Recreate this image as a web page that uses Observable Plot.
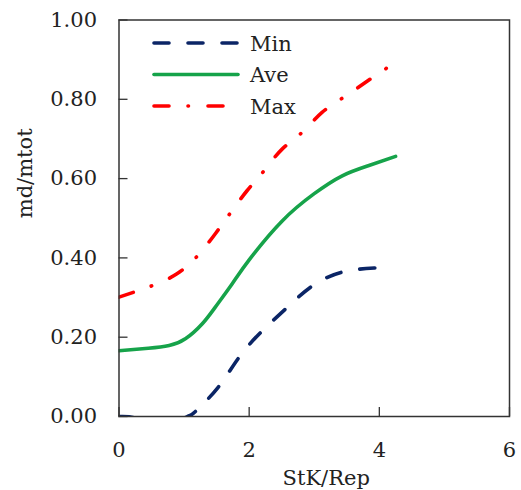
<!DOCTYPE html>
<html>
<head>
<meta charset="utf-8">
<script src="https://cdn.jsdelivr.net/npm/d3@7"></script>
<script src="https://cdn.jsdelivr.net/npm/@observablehq/plot@0.6"></script>
<style>
  html, body { margin: 0; padding: 0; background: white; }
  #chart { position: relative; width: 521px; height: 490px; }
</style>
</head>
<body>
<div id="chart"></div>
<script>
// ---- data ----
const xTicks = [0, 2, 4, 6];
const yTicks = [0, 0.2, 0.4, 0.6, 0.8, 1.0];

const seriesNames = ["Min", "Ave", "Max"];

const minX = [0, 0.25, 0.5, 0.75, 1.05, 1.17, 1.52, 1.83, 2.17, 2.55, 2.96, 3.45, 3.96, 4.09];
const minY = [0, -0.004, -0.025, -0.025, 0, 0.012, 0.073, 0.146, 0.211, 0.27, 0.328, 0.365, 0.375, 0.378];

const aveX = [0, 0.45, 0.77, 1.02, 1.28, 1.48, 1.74, 2.0, 2.5, 3.0, 3.43, 3.84, 4.25];
const aveY = [0.166, 0.172, 0.179, 0.196, 0.234, 0.276, 0.335, 0.395, 0.492, 0.562, 0.607, 0.633, 0.656];

const maxX = [0, 0.51, 0.89, 1.2, 1.48, 1.71, 1.97, 2.24, 2.51, 2.83, 3.12, 3.48, 3.79, 4.17];
const maxY = [0.301, 0.33, 0.36, 0.404, 0.461, 0.513, 0.57, 0.622, 0.675, 0.719, 0.767, 0.808, 0.843, 0.885];

const xLabel = "StK/Rep";
const yLabel = "md/mtot";

// ---- build tables ----
const toRows = (xs, ys) => xs.map((x, i) => ({x, y: ys[i]}));
const minData = toRows(minX, minY);
const aveData = toRows(aveX, aveY);
const maxData = toRows(maxX, maxY);

const styles = {
  Min: {stroke: "#0b2566", dash: "15,19"},
  Ave: {stroke: "#16a34a", dash: null},
  Max: {stroke: "#ff0000", dash: "15,19,0.5,19.5"}
};
const lw = 3.6;
const font = "DejaVu Serif";
const fs = 21;

const plot = Plot.plot({
  width: 521,
  height: 490,
  marginLeft: 118.5,
  marginRight: 12,
  marginTop: 19.5,
  marginBottom: 74,
  style: {fontFamily: font, fontSize: fs + "px"},
  x: {domain: [0, 6], label: null},
  y: {domain: [0, 1], label: null},
  marks: [
    Plot.line(minData, {x: "x", y: "y", stroke: styles.Min.stroke, strokeWidth: lw, strokeDasharray: styles.Min.dash, strokeLinecap: "round", curve: "natural", clip: true}),
    Plot.line(aveData, {x: "x", y: "y", stroke: styles.Ave.stroke, strokeWidth: lw, strokeLinecap: "round", curve: "natural", clip: true}),
    Plot.line(maxData, {x: "x", y: "y", stroke: styles.Max.stroke, strokeWidth: lw, strokeDasharray: styles.Max.dash, strokeLinecap: "round", curve: "natural", clip: true}),
    Plot.frame({stroke: "#333", strokeWidth: 1.5}),
    Plot.axisX({ticks: xTicks, tickSize: -9, tickFormat: () => "", stroke: "#333", strokeWidth: 1.3}),
    Plot.axisX({ticks: xTicks, tickSize: 0, tickPadding: 26, tickFormat: d => String(d), fill: "#222"}),
    Plot.axisY({ticks: yTicks, tickSize: -9, tickFormat: () => "", stroke: "#333", strokeWidth: 1.3}),
    Plot.axisY({ticks: yTicks, tickSize: 0, tickPadding: 22, tickFormat: d => d.toFixed(2), fill: "#222"}),
    Plot.text([xLabel], {text: d => d, frameAnchor: "bottom", lineAnchor: "middle", dx: 12, dy: 62, fill: "#222"}),
    Plot.text([yLabel], {text: d => d, frameAnchor: "left", lineAnchor: "middle", rotate: -90, dx: -93.5, fill: "#222"})
  ]
});

document.getElementById("chart").appendChild(plot);

// ---- legend inside the plot area ----
const svg = d3.select(plot);
const legend = svg.append("g")
  .attr("font-size", fs)
  .attr("fill", "#222")
  .attr("text-anchor", "start");
seriesNames.forEach((name, i) => {
  const cy = 43 + i * 31.5;
  const s = styles[name];
  const ln = legend.append("line")
    .attr("x1", 154).attr("x2", 238)
    .attr("y1", cy).attr("y2", cy)
    .attr("stroke", s.stroke).attr("stroke-width", lw)
    .attr("stroke-linecap", "round");
  if (s.dash) ln.attr("stroke-dasharray", s.dash);
  legend.append("text").attr("x", 250).attr("y", cy + 7.5).attr("text-anchor", "start").text(name);
});

svg.selectAll("text").attr("font-family", font);
</script>
</body>
</html>
